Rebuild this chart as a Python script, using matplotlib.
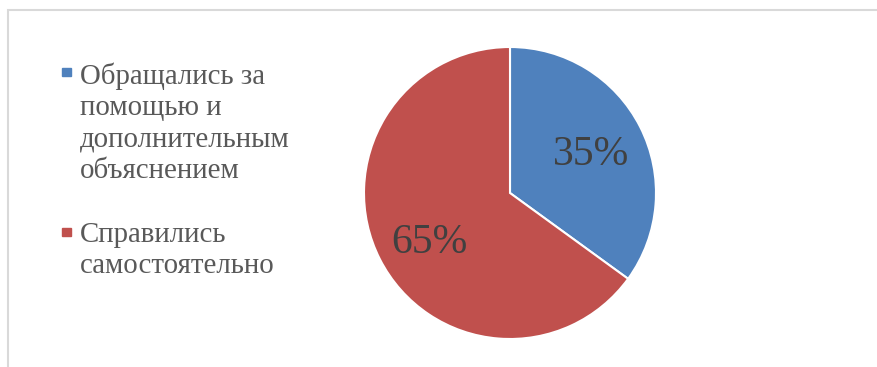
import matplotlib.pyplot as plt
from matplotlib.patches import Rectangle

# Данные диаграммы
labels = ["Обращались за\nпомощью и\nдополнительным\nобъяснением",
          "Справились\nсамостоятельно"]
values = [35, 65]
colors = ["#4F81BD", "#C0504D"]

W, H = 877, 367
fig = plt.figure(figsize=(W / 100, H / 100), dpi=100)
plt.rcParams['font.family'] = ['Liberation Serif', 'DejaVu Serif']

# рамка (видны только верхний и левый край)
fig.patches.append(Rectangle((8 / W, -0.1), 1.2, (H - 10) / H + 0.1,
                             transform=fig.transFigure, fill=False,
                             edgecolor="#d9d9d9", linewidth=1.5))

# круговая диаграмма
cx, cy, r = 510, 193, 146
ax = fig.add_axes([(cx - r) / W, (H - cy - r) / H, 2 * r / W, 2 * r / H])
wedges, texts, autotexts = ax.pie(values, colors=colors, startangle=90, counterclock=False,
                                  autopct='%d%%', pctdistance=0.62,
                                  wedgeprops=dict(edgecolor='white', linewidth=1.5),
                                  textprops=dict(fontsize=30, color='#404040'))
# небольшая подгонка положения подписей
for t, dy in zip(autotexts, [-0.02, -0.06]):
    x, y = t.get_position()
    t.set_position((x, y + dy))
ax.set_xlim(-1, 1)
ax.set_ylim(-1, 1)
ax.set_aspect('equal')

# легенда слева
tops = [65, 225]
for lab, col, top in zip(labels, colors, tops):
    fig.patches.append(Rectangle((62 / W, (H - top - 11) / H), 8.5 / W, 8.5 / H,
                                 transform=fig.transFigure, color=col))
    fig.text(80 / W, (H - top + 3) / H, lab, fontsize=20.8, color='#595959',
             va='top', ha='left', linespacing=1.27)

fig.savefig("out.png", dpi=100)
